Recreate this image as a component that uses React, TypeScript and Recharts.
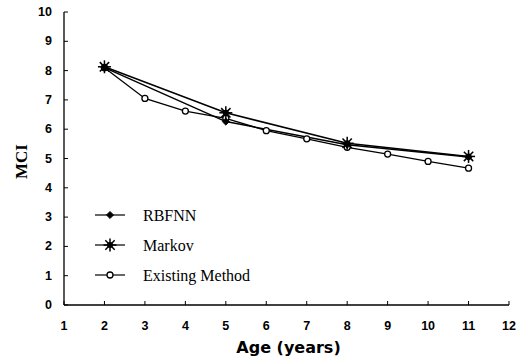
import React from "react";
import { LineChart, Line, XAxis, YAxis, Legend } from "recharts";

// Age in years and MCI estimates for each method
const ages = [2, 3, 4, 5, 6, 7, 8, 9, 10, 11];
const existingMethod = [8.1, 7.05, 6.62, 6.37, 5.95, 5.67, 5.38, 5.15, 4.9, 4.67];
const rbfnn = [8.1, null, null, 6.26, null, null, 5.47, null, null, 5.05];
const markov = [8.13, null, null, 6.56, null, null, 5.52, null, null, 5.07];

const xTicks = [1, 2, 3, 4, 5, 6, 7, 8, 9, 10, 11, 12];
const yTicks = [0, 1, 2, 3, 4, 5, 6, 7, 8, 9, 10];

const data = ages.map((age, i) => ({
  age,
  existing: existingMethod[i],
  rbfnn: rbfnn[i],
  markov: markov[i],
}));

const tickFont = { fontFamily: "'Liberation Sans', Arial, sans-serif", fontWeight: 700, fontSize: 12.5 };

// Marker sizes are fixed here; Recharts' own `r` prop is ignored on purpose
const Diamond = ({ cx, cy }: any) => {
  if (cx == null || cy == null) return null;
  const r = 3.6;
  return (
    <polygon
      points={`${cx},${cy - r} ${cx + r},${cy} ${cx},${cy + r} ${cx - r},${cy}`}
      fill="#000"
      stroke="#000"
      strokeWidth={0.8}
    />
  );
};

const Asterisk = ({ cx, cy }: any) => {
  if (cx == null || cy == null) return null;
  const r = 6.5;
  const d = r * 0.72;
  return (
    <g stroke="#000" strokeWidth={1.5}>
      <line x1={cx} y1={cy - r} x2={cx} y2={cy + r} />
      <line x1={cx - r} y1={cy} x2={cx + r} y2={cy} />
      <line x1={cx - d} y1={cy - d} x2={cx + d} y2={cy + d} />
      <line x1={cx - d} y1={cy + d} x2={cx + d} y2={cy - d} />
      <circle cx={cx} cy={cy} r={2.3} fill="#000" />
    </g>
  );
};

const OpenCircle = ({ cx, cy }: any) =>
  cx == null || cy == null ? null : (
    <circle cx={cx} cy={cy} r={3} fill="#fff" stroke="#000" strokeWidth={1.3} />
  );

const XTick = ({ x, y, payload }: any) => (
  <g>
    <line x1={x} y1={y} x2={x} y2={y - 4} stroke="#000" strokeWidth={1} />
    <text x={x} y={y + 21} textAnchor="middle" dominantBaseline="central" fill="#000" {...tickFont}>
      {payload.value}
    </text>
  </g>
);

const YTick = ({ x, y, payload }: any) => (
  <g>
    <line x1={x} y1={y} x2={x + 4} y2={y} stroke="#000" strokeWidth={1} />
    <text x={x - 12} y={y} textAnchor="end" dominantBaseline="central" fill="#000" {...tickFont}>
      {payload.value}
    </text>
  </g>
);

const legendItems = [
  { key: "rbfnn", label: "RBFNN", Marker: Diamond },
  { key: "markov", label: "Markov", Marker: Asterisk },
  { key: "existing", label: "Existing Method", Marker: OpenCircle },
];

const LegendBox = () => (
  <svg width={200} height={90}>
    {legendItems.map((item, i) => {
      const cy = 15 + i * 30;
      const M = item.Marker;
      return (
        <g key={item.key}>
          <line x1={7} y1={cy} x2={37} y2={cy} stroke="#000" strokeWidth={1.2} />
          <M cx={22} cy={cy} />
          <text
            x={55}
            y={cy}
            dominantBaseline="central"
            fontFamily="'Liberation Serif', 'Times New Roman', serif"
            fontSize={16}
            fill="#000"
          >
            {item.label}
          </text>
        </g>
      );
    })}
  </svg>
);

export default function App() {
  return (
    <div style={{ position: "absolute", left: 0, top: 0, background: "#fff" }}>
      <LineChart width={516} height={363} data={data} margin={{ top: 12, right: 7, bottom: 0, left: 0 }}>
        <XAxis
          dataKey="age"
          type="number"
          domain={[1, 12]}
          ticks={xTicks}
          interval={0}
          height={58}
          tickSize={0}
          tickMargin={0}
          tickLine={false}
          tick={<XTick />}
          axisLine={{ stroke: "#000", strokeWidth: 1.3 }}
          label={{
            content: ({ viewBox }: any) => (
              <text
                x={viewBox.x + viewBox.width / 2 + 2}
                y={viewBox.y + 42}
                textAnchor="middle"
                dominantBaseline="central"
                fontFamily="'DejaVu Sans', sans-serif"
                fontWeight={700}
                fontSize={16}
                fill="#000"
              >
                Age (years)
              </text>
            ),
          }}
        />
        <YAxis
          type="number"
          domain={[0, 10]}
          ticks={yTicks}
          interval={0}
          width={64}
          tickSize={0}
          tickMargin={0}
          tickLine={false}
          tick={<YTick />}
          axisLine={{ stroke: "#000", strokeWidth: 1.3 }}
          label={{
            content: ({ viewBox }: any) => {
              const cx = viewBox.x + 21;
              const cy = viewBox.y + viewBox.height / 2 + 3;
              return (
                <text
                  x={cx}
                  y={cy}
                  transform={`rotate(-90 ${cx} ${cy})`}
                  textAnchor="middle"
                  dominantBaseline="central"
                  fontFamily="'Liberation Serif', 'Times New Roman', serif"
                  fontWeight={700}
                  fontSize={17}
                  fill="#000"
                >
                  MCI
                </text>
              );
            },
          }}
        />
        <Legend
          layout="vertical"
          align="center"
          verticalAlign="middle"
          content={<LegendBox />}
          wrapperStyle={{ left: 88, top: 200, width: 200, height: 90 }}
        />
        <Line
          dataKey="existing"
          name="Existing Method"
          stroke="#000"
          strokeWidth={1.3}
          connectNulls
          dot={<OpenCircle />}
          activeDot={false}
          isAnimationActive={false}
        />
        <Line
          dataKey="rbfnn"
          name="RBFNN"
          stroke="#000"
          strokeWidth={1.5}
          connectNulls
          dot={<Diamond />}
          activeDot={false}
          isAnimationActive={false}
        />
        <Line
          dataKey="markov"
          name="Markov"
          stroke="#000"
          strokeWidth={1.5}
          connectNulls
          dot={<Asterisk />}
          activeDot={false}
          isAnimationActive={false}
        />
      </LineChart>
    </div>
  );
}
